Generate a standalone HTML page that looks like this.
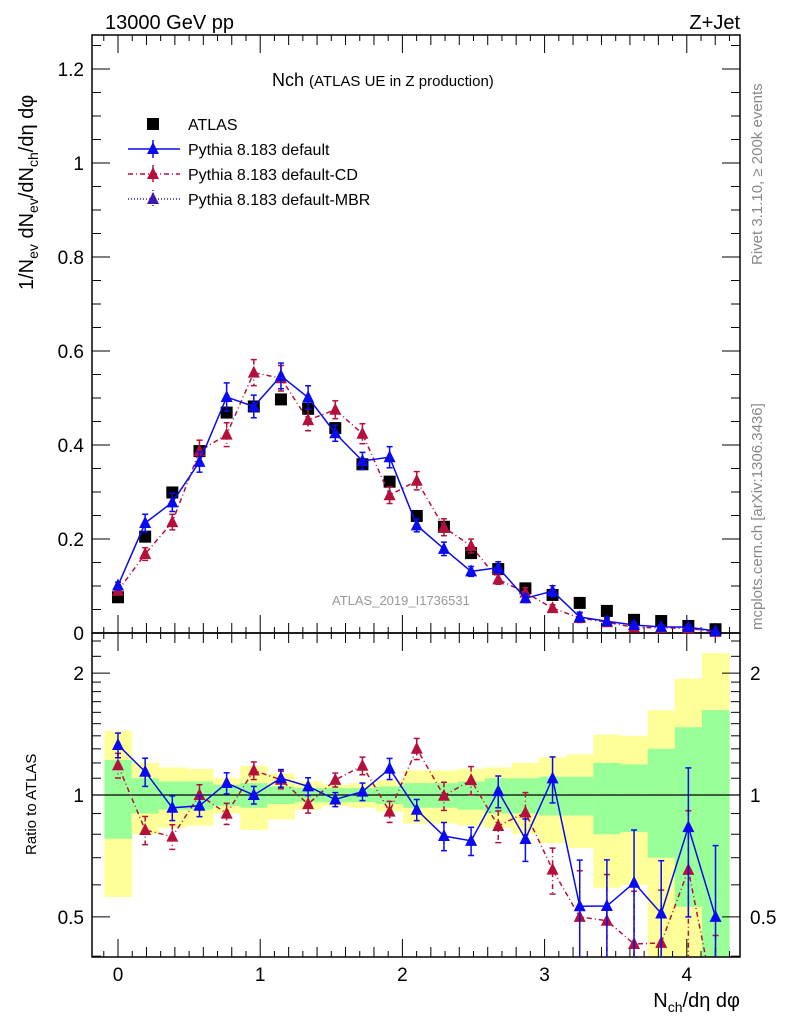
<!DOCTYPE html>
<html><head><meta charset="utf-8"><style>
html,body{margin:0;padding:0;background:#fff;width:786px;height:1024px;overflow:hidden;}
svg{display:block;font-family:"Liberation Sans",sans-serif;}
</style></head><body>
<svg id="chart" width="786" height="1024" viewBox="0 0 786 1024" xmlns="http://www.w3.org/2000/svg">
<g id="bands"></g>
<g id="axes"></g>
<g id="series"></g>
<text x="105" y="29" font-size="20">13000 GeV pp</text>
<text x="740" y="29" font-size="20" text-anchor="end">Z+Jet</text>
<text transform="translate(762,265) rotate(-90)" font-size="15" fill="#888">Rivet 3.1.10, ≥ 200k events</text>
<text transform="translate(762,630) rotate(-90)" font-size="15" fill="#888">mcplots.cern.ch [arXiv:1306.3436]</text>
<text transform="translate(33,290) rotate(-90)" font-size="20">1/N<tspan font-size="14" dy="5">ev</tspan><tspan dy="-5"> dN</tspan><tspan font-size="14" dy="5">ev</tspan><tspan dy="-5">/dN</tspan><tspan font-size="14" dy="5">ch</tspan><tspan dy="-5">/dη dφ</tspan></text>
<text transform="translate(36,855) rotate(-90)" font-size="15">Ratio to ATLAS</text>
<text x="740" y="1007" font-size="20" text-anchor="end">N<tspan font-size="14" dy="5">ch</tspan><tspan dy="-5">/dη dφ</tspan></text>
<text x="272" y="86" font-size="18">Nch <tspan font-size="15">(ATLAS UE in Z production)</tspan></text>
<text x="332" y="605" font-size="13" fill="#999">ATLAS_2019_I1736531</text>
<g id="legend"></g>
</svg>
<script>
const xVals = [0,0.191,0.382,0.573,0.764,0.955,1.146,1.337,1.528,1.719,1.91,2.101,2.292,2.483,2.674,2.865,3.056,3.247,3.438,3.629,3.82,4.011,4.202];
const atlasVals = [0.076,0.205,0.299,0.387,0.469,0.482,0.497,0.477,0.436,0.359,0.322,0.249,0.226,0.17,0.136,0.095,0.081,0.064,0.047,0.028,0.0255,0.015,0.008];
const defaultVals = [0.101,0.234,0.278,0.364,0.502,0.482,0.547,0.501,0.425,0.366,0.374,0.229,0.179,0.131,0.139,0.074,0.089,0.034,0.025,0.017,0.013,0.0125,0.004];
const cdVals = [0.090,0.168,0.236,0.387,0.422,0.554,0.542,0.453,0.475,0.424,0.293,0.324,0.225,0.185,0.114,0.086,0.053,0.032,0.023,0.012,0.011,0.0098,0.0024];
const mcRelErr = [0.07,0.08,0.07,0.06,0.06,0.05,0.05,0.05,0.04,0.05,0.06,0.06,0.08,0.08,0.09,0.12,0.13,0.3,0.3,0.35,0.35,0.4,0.5];
const yellowErr = [0.44,0.20,0.17,0.16,0.10,0.18,0.13,0.08,0.06,0.07,0.09,0.15,0.15,0.16,0.17,0.20,0.24,0.26,0.41,0.40,0.62,0.94,1.24];
const greenErr = [0.22,0.10,0.08,0.08,0.06,0.07,0.05,0.04,0.04,0.04,0.05,0.07,0.07,0.08,0.10,0.10,0.11,0.11,0.20,0.19,0.30,0.47,0.62];
const yTicks = [0,0.2,0.4,0.6,0.8,1,1.2];
const yTickLabels = ["0","0.2","0.4","0.6","0.8","1","1.2"];
const xTicks = [0,1,2,3,4];
const xTickLabels = ["0","1","2","3","4"];
const rTicks = [0.5,1,2];
const rTickLabels = ["0.5","1","2"];

const L=92,R=740,T=35,M=633,B=957;
const X=v=>118+v*142.2;
const Y=v=>633-v*470;
const RY=r=>795-Math.log10(r)*405;
const NS="http://www.w3.org/2000/svg";
function mk(tag,attrs,parent){const e=document.createElementNS(NS,tag);for(const k in attrs)e.setAttribute(k,attrs[k]);parent.appendChild(e);return e;}
const axes=document.getElementById('axes'),series=document.getElementById('series'),bands=document.getElementById('bands'),legend=document.getElementById('legend');
const clampR=y=>Math.max(M,Math.min(B,y));

for(let i=0;i<xVals.length;i++){
  const x0=X(xVals[i]-0.0955),x1=Math.min(R,X(xVals[i]+0.0955));
  for(const [arr,col] of [[yellowErr,'#ffff99'],[greenErr,'#99ff99']]){
    const e=arr[i];
    const yt=clampR(RY(1+e)),yb=clampR(e>=0.6?B:RY(1-e));
    const r=mk('rect',{x:x0,y:yt,width:x1-x0+0.5,height:yb-yt,fill:col},bands);
    
    
  }
}
let f=mk('rect',{x:L,y:T,width:R-L,height:M-T,fill:'none',stroke:'#000','stroke-width':1.5},axes);

f=mk('rect',{x:L,y:M,width:R-L,height:B-M,fill:'none',stroke:'#000','stroke-width':1.5},axes);

let ln=mk('line',{x1:L,x2:R,y1:RY(1),y2:RY(1),stroke:'#000','stroke-width':1.3},axes);


for(let v=0;v<=1.27;v+=0.05){
  const y=Y(v),maj=Math.abs(v/0.2-Math.round(v/0.2))<1e-6;
  const len=maj?18:9;
  mk('line',{x1:L,x2:L+len,y1:y,y2:y,stroke:'#000'},axes);
  mk('line',{x1:R,x2:R-len,y1:y,y2:y,stroke:'#000'},axes);
}
yTicks.forEach((v,i)=>{
  const t=mk('text',{x:L-8,y:Y(v)+7,'font-size':19,'text-anchor':'end'},axes);
  t.textContent=yTickLabels[i];
  
});
for(let v=-0.1;v<=4.35;v+=0.1){
  const x=X(v),maj=Math.abs(v-Math.round(v))<1e-6;
  const len=maj?18:(Math.round(v*10)%2===0?10:6);
  mk('line',{x1:x,x2:x,y1:M,y2:M-len,stroke:'#000'},axes);
  mk('line',{x1:x,x2:x,y1:T,y2:T+len,stroke:'#000'},axes);
  mk('line',{x1:x,x2:x,y1:B,y2:B-len,stroke:'#000'},axes);
  mk('line',{x1:x,x2:x,y1:M,y2:M+len,stroke:'#000'},axes);
}
xTicks.forEach((v,i)=>{
  const t=mk('text',{x:X(v),y:981,'font-size':19,'text-anchor':'middle'},axes);
  t.textContent=xTickLabels[i];
  
});
const rMinor=[0.4,0.6,0.7,0.8,0.9,1.1,1.2,1.3,1.4,1.5,1.6,1.7,1.8,1.9,2.2,2.4];
rMinor.forEach(r=>{const y=RY(r);mk('line',{x1:L,x2:L+9,y1:y,y2:y,stroke:'#000'},axes);mk('line',{x1:R,x2:R-9,y1:y,y2:y,stroke:'#000'},axes);});
rTicks.forEach((r,i)=>{
  const y=RY(r);
  mk('line',{x1:L,x2:L+18,y1:y,y2:y,stroke:'#000'},axes);
  mk('line',{x1:R,x2:R-18,y1:y,y2:y,stroke:'#000'},axes);
  const t=mk('text',{x:L-8,y:y+7,'font-size':19,'text-anchor':'end'},axes);
  t.textContent=rTickLabels[i];
  
  const t2=mk('text',{x:R+10,y:y+7,'font-size':19},axes);
  t2.textContent=rTickLabels[i];
  
});

function tri(x,y,col,parent,name){
  const p=mk('polygon',{points:`${x},${y-7} ${x-6},${y+5} ${x+6},${y+5}`,fill:col},parent);
  
  
}
function drawMC(vals,col,dash,name){
  const g=mk('g',{},series);
  
  
  mk('polyline',{points:vals.map((v,i)=>X(xVals[i])+','+Y(v)).join(' '),fill:'none',stroke:col,'stroke-width':1.5,'stroke-dasharray':dash},g);
  vals.forEach((v,i)=>{
    const x=X(xVals[i]),e=v*mcRelErr[i];
    mk('line',{x1:x,x2:x,y1:Y(v+e),y2:Y(Math.max(0,v-e)),stroke:col,'stroke-width':1.5,'stroke-dasharray':dash},g);
    mk('line',{x1:x-3,x2:x+3,y1:Y(v+e),y2:Y(v+e),stroke:col,'stroke-width':1.5},g);
    mk('line',{x1:x-3,x2:x+3,y1:Y(v-e),y2:Y(v-e),stroke:col,'stroke-width':1.5},g);
    tri(x,Y(v),col,g,name+'-point');
  });
  const rat=vals.map((v,i)=>v/atlasVals[i]);
  const cg=mk('g',{'clip-path':'url(#rclip)'},g);
  mk('polyline',{points:rat.map((r,i)=>X(xVals[i])+','+RY(r)).join(' '),fill:'none',stroke:col,'stroke-width':1.5,'stroke-dasharray':dash},cg);
  rat.forEach((r,i)=>{
    const x=X(xVals[i]),e=r*mcRelErr[i];
    const y1=RY(r+e),y2=r-e>0.05?RY(r-e):B+5;
    mk('line',{x1:x,x2:x,y1:y1,y2:y2,stroke:col,'stroke-width':1.5,'stroke-dasharray':dash},cg);
    mk('line',{x1:x-3,x2:x+3,y1:y1,y2:y1,stroke:col,'stroke-width':1.5},cg);
    mk('line',{x1:x-3,x2:x+3,y1:y2,y2:y2,stroke:col,'stroke-width':1.5},cg);
    tri(x,RY(r),col,cg,name+'-ratio-point');
  });
}
const defs=mk('defs',{},document.getElementById('chart'));
const cp=mk('clipPath',{id:'rclip'},defs);
mk('rect',{x:L,y:M,width:R-L,height:B-M},cp);

atlasVals.forEach((v,i)=>{
  const s=mk('rect',{x:X(xVals[i])-6,y:Y(v)-6,width:12,height:12,fill:'#000'},series);
  
  
});
drawMC(cdVals,'#b5103c','5,3,1,3','pythia-default-cd');
drawMC(defaultVals,'#0a0af0','','pythia-default');

const entries=[['ATLAS','sq','#000',''],['Pythia 8.183 default','tri','#0a0af0',''],['Pythia 8.183 default-CD','tri','#b5103c','5,3,1,3'],['Pythia 8.183 default-MBR','tri','#3a1ab0','1,2']];
entries.forEach((e,i)=>{
  const y=124+i*25;
  const g=mk('g',{},legend);
  
  
  if(e[1]==='sq'){mk('rect',{x:147,y:y-6,width:12,height:12,fill:'#000'},g);}
  else{
    mk('line',{x1:128,x2:180,y1:y,y2:y,stroke:e[2],'stroke-width':1.5,'stroke-dasharray':e[3]},g);
    mk('line',{x1:153,x2:153,y1:y-9,y2:y+9,stroke:e[2],'stroke-width':1.5,'stroke-dasharray':e[3]},g);
    tri(153,y,e[2],g,'legend-marker');
  }
  const t=mk('text',{x:188,y:y+6,'font-size':16},g);
  t.textContent=e[0];
});
</script>
</body></html>
